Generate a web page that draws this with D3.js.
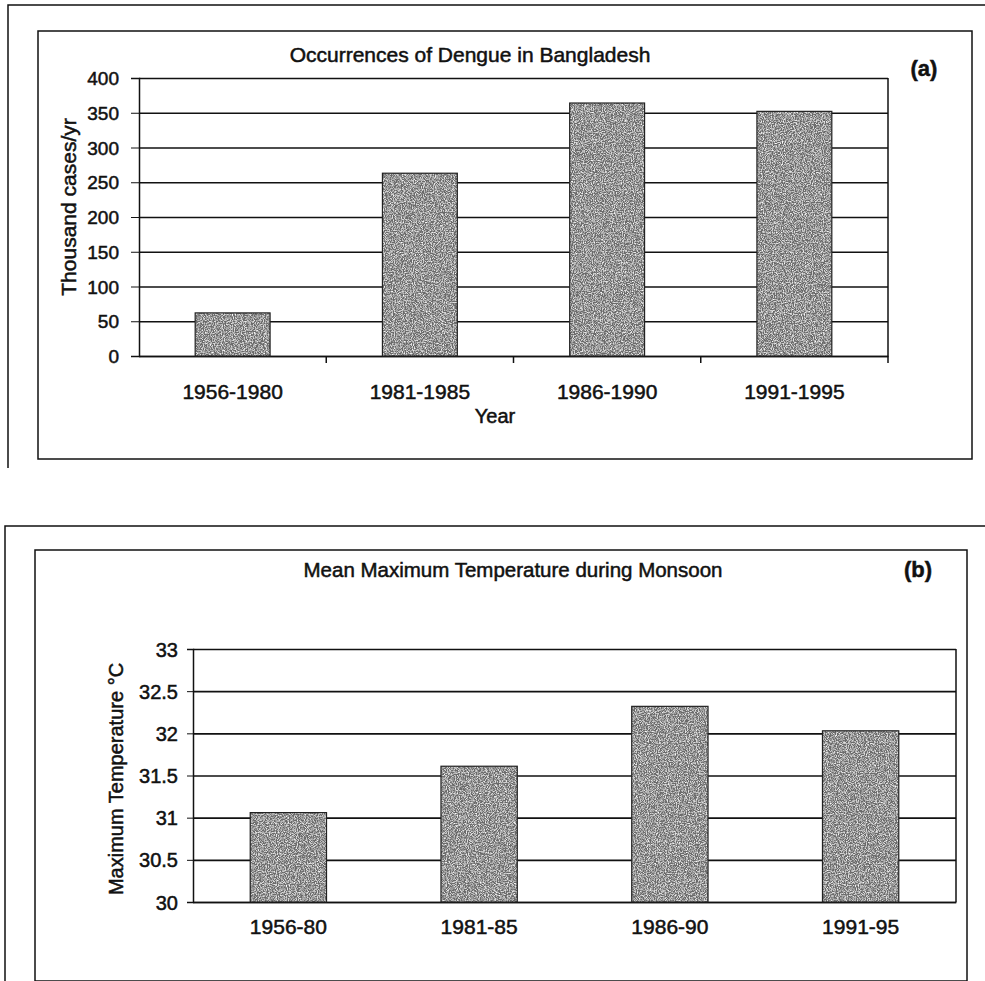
<!DOCTYPE html>
<html lang="en">
<head>
    <meta charset="UTF-8">
    <title>Dengue and temperature</title>
    <script src="https://cdn.jsdelivr.net/npm/d3@7/dist/d3.min.js"></script>
    <style>
        body{margin:0;background:#fff;}
        svg text{font-family:"Liberation Sans",Arial,sans-serif;fill:#111;stroke:#111;stroke-width:0.5px;}
    </style>
</head>
<body>
    <script>
             var width=985;
             var height=981;

             // chart (a) data
             var periodsA=["1956-1980","1981-1985","1986-1990","1991-1995"];
             var casesA=[62,263,364,352];
             var ticksA=[0,50,100,150,200,250,300,350,400];

             // chart (b) data
             var periodsB=["1956-80","1981-85","1986-90","1991-95"];
             var tempB=[31.06,31.61,32.32,32.03];
             var ticksB=[30,30.5,31,31.5,32,32.5,33];

             var svg=d3.select("body").append("svg").attr("width",width).attr("height",height);

             // grainy grey for the bars
             var filter=svg.append("defs").append("filter").attr("id","grain")
                     .attr("x",0).attr("y",0).attr("width","100%").attr("height","100%");
             filter.append("feTurbulence").attr("type","fractalNoise").attr("baseFrequency",0.9)
                     .attr("numOctaves",3).attr("seed",4).attr("result","noise");
             filter.append("feColorMatrix").attr("in","noise").attr("type","matrix")
                     .attr("values","0 0 0 0 1  0 0 0 0 1  0 0 0 0 1  2.2 0 0 0 -0.9").attr("result","white");
             filter.append("feComposite").attr("in","white").attr("in2","SourceGraphic")
                     .attr("operator","in").attr("result","speck");
             var merge=filter.append("feMerge");
             merge.append("feMergeNode").attr("in","SourceGraphic");
             merge.append("feMergeNode").attr("in","speck");

             function frame(x1,y1,x2,y2){
                 svg.append("rect").attr("x",x1).attr("y",y1).attr("width",x2-x1).attr("height",y2-y1)
                         .attr("fill","none").attr("stroke","#111").attr("stroke-width",1.5);
             }

             function drawChart(o){
                 var g=svg.append("g").attr("transform","translate("+o.left+","+o.top+")");
                 var w=o.right-o.left, h=o.bottom-o.top;
                 var x=d3.scaleBand().domain(o.cats).range([0,w]).paddingInner(0.6).paddingOuter(0.3);
                 var y=d3.scaleLinear().domain(o.domain).range([h,0]);

                 //网格线
                 g.append("g").call(d3.axisLeft(y).tickValues(o.ticks).tickSize(-w).tickFormat(""))
                         .call(function(s){s.select(".domain").remove();s.selectAll("line").attr("stroke","#111").attr("stroke-width",1.6);});
                 g.append("line").attr("x1",w).attr("x2",w).attr("y1",0).attr("y2",h).attr("stroke","#111").attr("stroke-width",1.5);

                 //y 轴
                 var ya=g.append("g").call(d3.axisLeft(y).tickValues(o.ticks).tickSize(o.ytick).tickPadding(o.ypad).tickFormat(d3.format("")));
                 ya.select(".domain").attr("stroke","#111").attr("stroke-width",1.5);
                 ya.selectAll("line").attr("stroke","#111");
                 ya.selectAll("text").attr("font-size",o.yfs).attr("dy","0.35em");

                 //x 轴
                 var xa=g.append("g").attr("transform","translate(0,"+h+")")
                         .call(d3.axisBottom(x).tickSize(0).tickPadding(o.xpad));
                 xa.select(".domain").attr("stroke","#111").attr("stroke-width",1.5);
                 xa.selectAll("text").attr("font-size",o.xfs);
                 if(o.xticks){
                     g.selectAll(".xt").data(o.cats).enter().append("line")
                             .attr("x1",function(d){return x(d)+x.bandwidth()/2+x.step()/2;})
                             .attr("x2",function(d){return x(d)+x.bandwidth()/2+x.step()/2;})
                             .attr("y1",h).attr("y2",h+7).attr("stroke","#111").attr("stroke-width",1.5);
                 }

                 //填充数据
                 g.selectAll(".bar").data(o.values).enter().append("rect")
                         .attr("x",function(d,i){return x(o.cats[i]);})
                         .attr("y",function(d){return y(d);})
                         .attr("width",x.bandwidth())
                         .attr("height",function(d){return h-y(d);})
                         .attr("fill","#6a6a6a")
                         .attr("filter","url(#grain)");
                 g.selectAll(".edge").data(o.values).enter().append("rect")
                         .attr("x",function(d,i){return x(o.cats[i]);})
                         .attr("y",function(d){return y(d);})
                         .attr("width",x.bandwidth())
                         .attr("height",function(d){return h-y(d);})
                         .attr("fill","none").attr("stroke","#222").attr("stroke-width",1.2);

                 //y 轴标题
                 svg.append("text").attr("transform","translate("+o.ylx+","+o.yly+") rotate(-90)")
                         .attr("text-anchor","middle").attr("font-size",o.ylfs).text(o.ylabel);
             }

             // (a)
             svg.append("path").attr("d","M8,468 V5 H985").attr("fill","none").attr("stroke","#111").attr("stroke-width",1.5);
             frame(38,31,972,459);
             drawChart({left:139,top:78,right:888,bottom:356,cats:periodsA,values:casesA,domain:[0,400],ticks:ticksA,
                        yfs:19,ytick:8,ypad:12,xfs:21,xpad:28,xticks:true,
                        ylabel:"Thousand cases/yr",ylfs:21,ylx:76,yly:207});
             svg.append("text").attr("x",470).attr("y",62).attr("text-anchor","middle").attr("font-size",21).text("Occurrences of Dengue in Bangladesh");
             svg.append("text").attr("x",924).attr("y",76).attr("text-anchor","middle").attr("font-size",22).attr("font-weight","bold").text("(a)");
             svg.append("text").attr("x",495).attr("y",423).attr("text-anchor","middle").attr("font-size",20).text("Year");

             // (b)
             svg.append("path").attr("d","M5,981 V526 H985").attr("fill","none").attr("stroke","#111").attr("stroke-width",1.5);
             frame(35,550,967,981);
             drawChart({left:193,top:649,right:956,bottom:902,cats:periodsB,values:tempB,domain:[30,33],ticks:ticksB,
                        yfs:20,ytick:6,ypad:9,xfs:21,xpad:17,xticks:false,
                        ylabel:"Maximum Temperature \u00b0C",ylfs:20,ylx:123,yly:779});
             svg.append("text").attr("x",513).attr("y",577).attr("text-anchor","middle").attr("font-size",20.5).text("Mean Maximum Temperature during Monsoon");
             svg.append("text").attr("x",918).attr("y",577).attr("text-anchor","middle").attr("font-size",22).attr("font-weight","bold").text("(b)");
    </script>
</body>
</html>
